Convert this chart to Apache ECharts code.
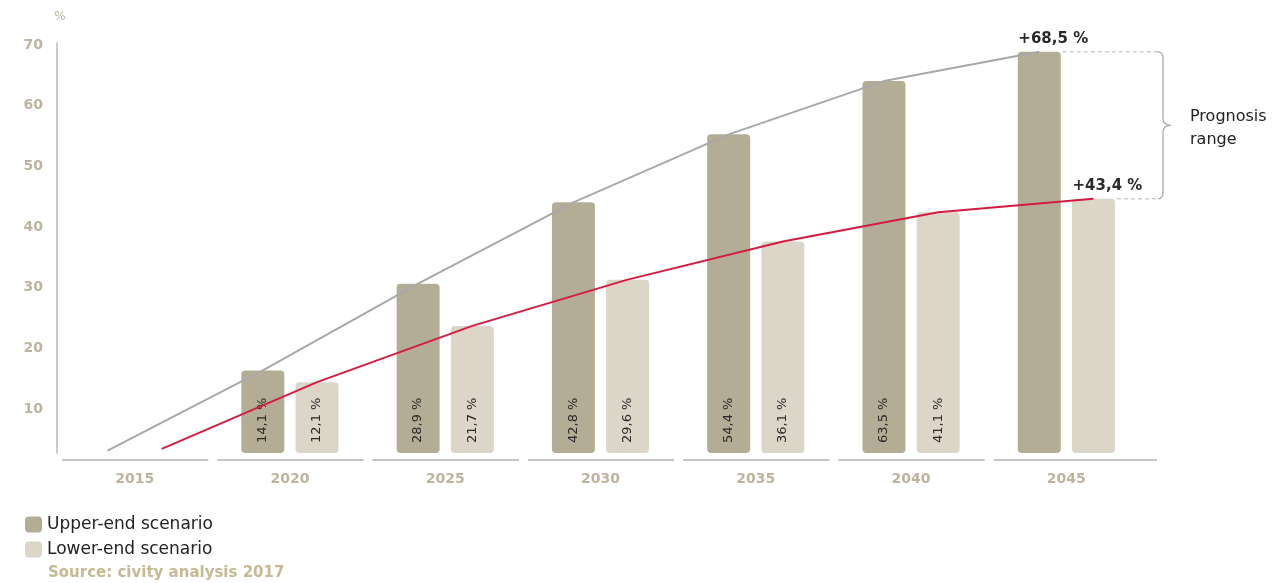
<!DOCTYPE html>
<html><head><meta charset="utf-8">
<script src="https://cdn.jsdelivr.net/npm/echarts@6/dist/echarts.min.js"></script>
<style>html,body{margin:0;padding:0;background:#fff}#c{width:1272px;height:583px}</style>
</head><body><div id="c"></div>
<script>
const categories = ['2015','2020','2025','2030','2035','2040','2045'];
const upperValues = [null, 14.1, 28.9, 42.8, 54.4, 63.5, 68.5];
const lowerValues = [null, 12.1, 21.7, 29.6, 36.1, 41.1, 43.4];
const upperTrend = [0.4, 14.1, 28.9, 42.8, 54.4, 63.5, 68.5];
const lowerTrend = [0.7, 12.1, 21.7, 29.6, 36.1, 41.1, 43.4];
const yTickRange = [0, 70, 10];
const seriesNames = ['Upper-end scenario', 'Lower-end scenario'];
const sourceText = 'Source: civity analysis 2017';
const rangeText = 'Prognosis\nrange';

const UPPER_COLOR = '#b4ad96', LOWER_COLOR = '#dbd6c8';
const AXIS_TXT = '#bcb49e';
const BAR_W = 43, GAP_RATIO = 0.26;
const FONT = 'DejaVu Sans';
const GRID_L = 57, GRID_R = 128;
const last = categories.length - 1;
const fmt = v => v.toFixed(1).replace('.', ',') + ' %';

function barData(vals) {
  return vals.map((v, i) => i === last ? {
    value: v,
    label: { position: 'top', rotate: 0, align: 'center', verticalAlign: 'bottom', distance: 5,
      offset: [14, 0], fontWeight: 'bold', fontSize: 15, color: '#2a2a2a',
      formatter: p => '+' + fmt(p.value) }
  } : v);
}
const insideLabel = { show: true, position: 'insideBottom', rotate: 90, align: 'left', verticalAlign: 'middle',
  distance: 10, fontSize: 13, color: '#2a2a2a', fontFamily: FONT, formatter: p => p.value == null ? '' : fmt(p.value) };

const chart = echarts.init(document.getElementById('c'), null, { renderer: 'canvas' });
const option = {
  animation: false,
  backgroundColor: '#fff',
  textStyle: { fontFamily: FONT },
  title: { text: sourceText, left: 43, top: 561, textStyle: { color: '#c8b894', fontSize: 15, fontWeight: 'bold', fontFamily: FONT } },
  legend: { data: seriesNames, orient: 'vertical', left: 20, top: 511, itemWidth: 17, itemHeight: 16, itemGap: 8,
    icon: 'roundRect', textStyle: { fontSize: 17, color: '#222', lineHeight: 16, fontFamily: FONT } },
  grid: [
    { left: GRID_L, right: GRID_R, top: 43, bottom: 583 - 453 },
    { left: GRID_L, right: GRID_R, top: 45, bottom: 583 - 470 }
  ],
  xAxis: [
    { type: 'category', gridIndex: 0, data: categories, axisLine: { show: false }, axisTick: { show: false },
      axisLabel: { color: AXIS_TXT, fontSize: 14, fontWeight: 'bold', margin: 19, fontFamily: FONT } },
    { type: 'value', gridIndex: 0, min: -0.5, max: categories.length - 0.5, show: false },
    { type: 'category', gridIndex: 1, data: categories, show: false }
  ],
  yAxis: [
    { type: 'value', gridIndex: 0, min: yTickRange[0], max: yTickRange[1], interval: yTickRange[2],
      axisLabel: { show: false }, axisTick: { show: false }, splitLine: { show: false },
      axisLine: { show: true, onZero: false, lineStyle: { color: '#b9b9b9', width: 1.5 } } },
    { type: 'value', gridIndex: 1, min: yTickRange[0], max: yTickRange[1], interval: yTickRange[2],
      name: '%', nameGap: 22, nameTextStyle: { color: AXIS_TXT, fontSize: 12, fontFamily: FONT, padding: [0, 0, 0, 6] },
      axisLabel: { color: AXIS_TXT, fontSize: 14, fontWeight: 'bold', margin: 14, fontFamily: FONT,
        formatter: v => v === 0 ? '' : String(v) },
      axisTick: { show: false }, splitLine: { show: false }, axisLine: { show: false, onZero: false } }
  ],
  series: [
    { name: seriesNames[0], type: 'bar', xAxisIndex: 0, yAxisIndex: 0, data: barData(upperValues),
      barWidth: BAR_W, barGap: (GAP_RATIO * 100) + '%', itemStyle: { color: UPPER_COLOR, borderRadius: 4 }, label: insideLabel, z: 2 },
    { name: seriesNames[1], type: 'bar', xAxisIndex: 0, yAxisIndex: 0, data: barData(lowerValues),
      barWidth: BAR_W, itemStyle: { color: LOWER_COLOR, borderRadius: 4 }, label: insideLabel, z: 2 },
    { type: 'custom', xAxisIndex: 0, yAxisIndex: 0, silent: true, z: 1,
      data: categories.map((c, i) => [i, 0]),
      renderItem: (params, api) => {
        const i = api.value(0);
        const c = api.coord([i, 0]);
        const w = api.size([1, 0])[0];
        const extra = i === categories.length - 1 ? 17 : 0;
        return { type: 'line', shape: { x1: c[0] - w / 2 + 5, y1: c[1] + 7, x2: c[0] + w / 2 - 4 + extra, y2: c[1] + 7 },
          style: { stroke: '#c6c6c6', lineWidth: 2 } };
      } }
  ]
};
chart.setOption(option);

const band = chart.convertToPixel({ xAxisIndex: 0 }, 1) - chart.convertToPixel({ xAxisIndex: 0 }, 0);
const off = (BAR_W / 2 + BAR_W * GAP_RATIO / 2) / band;
chart.setOption({ series: [
  option.series[0], option.series[1], option.series[2],
  { name: 'upperTrend', type: 'line', xAxisIndex: 1, yAxisIndex: 0, data: upperTrend.map((v, i) => [i - off, v]),
    symbol: 'none', lineStyle: { color: '#a8a8a8', width: 2 }, z: 4, silent: true },
  { name: 'lowerTrend', type: 'line', xAxisIndex: 1, yAxisIndex: 0, data: lowerTrend.map((v, i) => [i + off, v]),
    symbol: 'none', lineStyle: { color: '#d51b40', width: 2 }, z: 4, silent: true }
] });

const cx = chart.convertToPixel({ xAxisIndex: 0 }, last);
const offPx = off * band;
const yU = chart.convertToPixel({ yAxisIndex: 0 }, upperValues[last]);
const yL = chart.convertToPixel({ yAxisIndex: 0 }, lowerValues[last]);
const xUr = cx - offPx + BAR_W / 2 + 2;
const xLr = cx + offPx + BAR_W / 2 + 2;
const bx = chart.getWidth() - GRID_R + 14;
const yM = (yU + yL) / 2;
const bs = { stroke: '#a9a9a9', lineWidth: 1.3, fill: null };
chart.setOption({ graphic: [
  { type: 'line', shape: { x1: xUr, y1: yU, x2: bx, y2: yU }, style: { stroke: '#b5b5b5', lineWidth: 1, lineDash: [4, 3] } },
  { type: 'line', shape: { x1: xLr, y1: yL, x2: bx, y2: yL }, style: { stroke: '#b5b5b5', lineWidth: 1, lineDash: [4, 3] } },
  { type: 'bezierCurve', shape: { x1: bx, y1: yU, cpx1: bx + 5, cpy1: yU, x2: bx + 5, y2: yU + 7 }, style: bs },
  { type: 'line', shape: { x1: bx + 5, y1: yU + 7, x2: bx + 5, y2: yM - 7 }, style: bs },
  { type: 'bezierCurve', shape: { x1: bx + 5, y1: yM - 7, cpx1: bx + 5, cpy1: yM, x2: bx + 13, y2: yM }, style: bs },
  { type: 'bezierCurve', shape: { x1: bx + 13, y1: yM, cpx1: bx + 5, cpy1: yM, x2: bx + 5, y2: yM + 7 }, style: bs },
  { type: 'line', shape: { x1: bx + 5, y1: yM + 7, x2: bx + 5, y2: yL - 7 }, style: bs },
  { type: 'bezierCurve', shape: { x1: bx + 5, y1: yL - 7, cpx1: bx + 5, cpy1: yL, x2: bx, y2: yL }, style: bs },
  { type: 'text', x: bx + 32, y: yM + 3, style: { text: rangeText, fill: '#222', font: '16px "DejaVu Sans"', lineHeight: 23, verticalAlign: 'middle', align: 'left' } }
] });
</script></body></html>
